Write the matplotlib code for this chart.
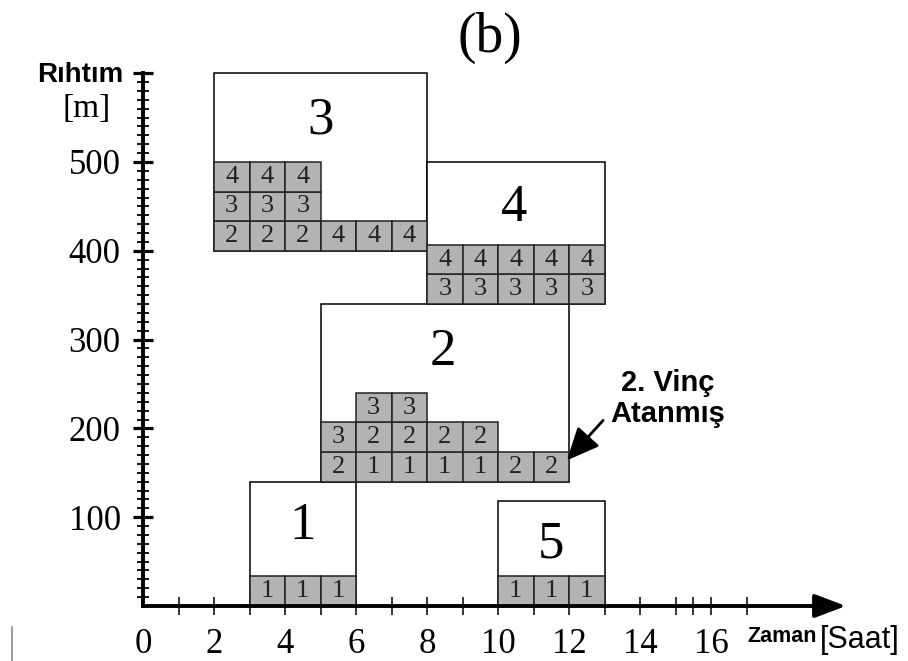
import matplotlib.pyplot as plt

# ─── DATA ───────────────────────────────────────────────
ship_ids   = ['1', '2', '3', '4', '5']
ship_start = [3, 5, 2, 8, 10]          # saat
ship_end   = [6, 12, 8, 13, 13]
ship_low   = [0, 140, 400, 340, 0]     # rihtim [m]
ship_high  = [140, 340, 600, 500, 118]
label_x    = [4.5, 8.45, 5.0, 10.45, 11.5]
label_y    = [90, 286, 547, 448, 69]

cell_h = 100 / 3
# crane numbers per row (bottom -> top), None = empty slot
ship_rows = {
    '1': [[1, 1, 1]],
    '2': [[2, 1, 1, 1, 1, 2, 2], [3, 2, 2, 2, 2], [None, 3, 3]],
    '3': [[2, 2, 2, 4, 4, 4], [3, 3, 3], [4, 4, 4]],
    '4': [[3, 3, 3, 3, 3], [4, 4, 4, 4, 4]],
    '5': [[1, 1, 1]],
}

x_major = [0, 2, 4, 6, 8, 10, 12, 14, 16]
x_minor = [1, 3, 5, 7, 9, 11, 13, 15, 15.5, 17]
y_major = [100, 200, 300, 400, 500, 600]
y_labels = ['100', '200', '300', '400', '500', '']
y_minor = [v for v in range(10, 600, 10) if v % 100]

# ─── FIGURE ─────────────────────────────────────────────
fig = plt.figure(figsize=(9.08, 6.61), dpi=100)
ax = fig.add_axes([0, 0, 1, 1])
sx, sy = 35.5, 0.888          # px per hour, px per metre
ax.set_xlim(-143 / sx, (908 - 143) / sx)
ax.set_ylim(-(661 - 606) / sy, 606 / sy)

serif = 'Liberation Serif'
sans = 'Liberation Sans'
gray = '#b3b3b3'

# ship boxes
for i, sid in enumerate(ship_ids):
    ax.bar(ship_start[i], ship_high[i] - ship_low[i], bottom=ship_low[i],
           width=ship_end[i] - ship_start[i], align='edge',
           facecolor='white', edgecolor='black', linewidth=1.1, zorder=1)
    ax.text(label_x[i], label_y[i], sid, fontsize=38, family=serif,
            ha='center', va='center', zorder=4)

    # crane cells
    for r, row in enumerate(ship_rows[sid]):
        for c, crane in enumerate(row):
            if crane is None:
                continue
            x0 = ship_start[i] + c
            y0 = ship_low[i] + r * cell_h
            ax.bar(x0, cell_h, bottom=y0, width=1, align='edge',
                   facecolor=gray, edgecolor='#222222', linewidth=1.1, zorder=2)
            ax.text(x0 + 0.5, y0 + cell_h / 2, str(crane), fontsize=19,
                    family=serif, color='#222222', ha='center', va='center', zorder=3)

# axes
for s in ['top', 'right']:
    ax.spines[s].set_visible(False)
ax.spines['left'].set_position(('data', 0))
ax.spines['bottom'].set_position(('data', 0))
ax.spines['left'].set_bounds(0, 600)
ax.spines['bottom'].set_bounds(0, 19.0)
ax.spines['left'].set_linewidth(2.8)
ax.spines['bottom'].set_linewidth(2.8)
ax.spines['left'].set_zorder(5)
ax.spines['bottom'].set_zorder(5)
ax.annotate('', xy=(19.8, 0), xytext=(18.8, 0),
            arrowprops=dict(arrowstyle='-|>,head_length=0.95,head_width=0.36',
                            mutation_scale=20, lw=2.8, color='black',
                            shrinkA=0, shrinkB=0), zorder=6)

ax.set_xticks(x_major)
ax.set_xticklabels([str(v) for v in x_major], family=serif, fontsize=25)
ax.set_xticks(x_minor, minor=True)
ax.tick_params(axis='x', which='both', direction='inout', length=13, width=1.1, pad=9)
ax.xaxis.get_major_ticks()[0].tick1line.set_visible(False)

ax.set_yticks(y_major)
ax.set_yticklabels(y_labels, family=serif, fontsize=25)
ax.set_yticks(y_minor, minor=True)
ax.tick_params(axis='y', which='major', direction='inout', length=14, width=2.3, pad=9)
ax.tick_params(axis='y', which='minor', direction='inout', length=8, width=1.3)

# axis titles
ax.text(-0.56, 590, 'Rıhtım', family=sans, fontweight='bold', fontsize=20,
        ha='right', va='baseline')
ax.text(-1.6, 551, '[m]', family=serif, fontsize=24, ha='center', va='baseline')
ax.text(17.02, -40, 'Zaman', family=sans, fontweight='bold', fontsize=15.5,
        ha='left', va='baseline')
ax.text(19.08, -47, '[Saat]', family=sans, fontsize=22, ha='left', va='baseline')

# title
ax.text(9.77, 640, '(b)', family=serif, fontsize=40, ha='center', va='center')

# annotation
ax.annotate('', xy=(11.94, 164), xytext=(12.96, 209),
            arrowprops=dict(arrowstyle='-|>,head_length=1.0,head_width=0.45',
                            mutation_scale=20, lw=2.0, color='black',
                            shrinkA=0, shrinkB=0), zorder=6)
ax.text(14.78, 234, '2. Vinç\nAtanmış', family=sans, fontweight='bold', fontsize=21,
        ha='center', va='center', linespacing=1.15)

# small crop artefact at the left edge
ax.plot([-3.68, -3.68], [-24, -62], color='#8a8a8a', lw=1.2, clip_on=False)

plt.savefig('out.png', dpi=100)
